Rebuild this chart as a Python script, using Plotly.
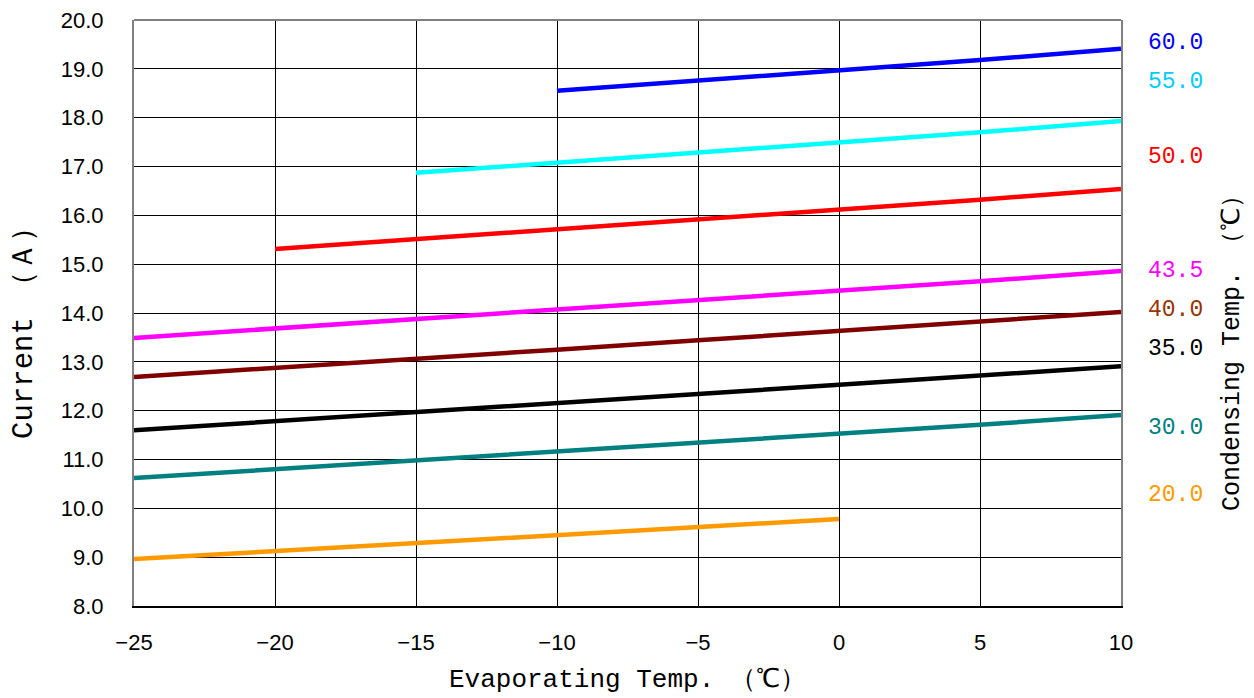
import plotly.graph_objects as go

evap = [-25, -20, -15, -10, -5, 0, 5, 10]

cond_labels = ["60.0", "55.0", "50.0", "43.5", "40.0", "35.0", "30.0", "20.0"]
current_60 = [None, None, None, 18.55, 18.76, 18.96, 19.18, 19.41]
current_55 = [None, None, 16.87, 17.08, 17.28, 17.48, 17.70, 17.93]
current_50 = [None, 15.31, 15.51, 15.71, 15.91, 16.11, 16.32, 16.54]
current_435 = [13.49, 13.68, 13.87, 14.06, 14.25, 14.45, 14.65, 14.86]
current_40 = [12.69, 12.87, 13.06, 13.25, 13.44, 13.63, 13.82, 14.02]
current_35 = [11.60, 11.78, 11.96, 12.15, 12.34, 12.53, 12.72, 12.91]
current_30 = [10.62, 10.80, 10.98, 11.16, 11.34, 11.52, 11.71, 11.91]
current_20 = [8.96, 9.12, 9.29, 9.45, 9.62, 9.78, None, None]

series = [current_60, current_55, current_50, current_435, current_40, current_35, current_30, current_20]
line_colors = ["#0000FF", "#00FFFF", "#FF0000", "#FF00FF", "#800000", "#000000", "#008080", "#FF9900"]
label_colors = ["#0000FF", "#00CCFF", "#FF0000", "#FF00FF", "#993300", "#000000", "#008080", "#FF9900"]
label_y = [19.53, 18.74, 17.2, 14.85, 14.06, 13.27, 11.64, 10.27]

MONO = "Liberation Mono, DejaVu Sans Mono, monospace"

fig = go.Figure()
for name, ys, col in zip(cond_labels, series, line_colors):
    fig.add_trace(go.Scatter(x=evap, y=ys, mode="lines", name=name,
                             line=dict(color=col, width=4.5), connectgaps=False,
                             showlegend=False, hoverinfo="skip"))

for name, yv, col in zip(cond_labels, label_y, label_colors):
    fig.add_annotation(x=1.0253, xref="paper", y=yv, yref="y", text=name,
                       showarrow=False, xanchor="left", yanchor="middle",
                       font=dict(family=MONO, size=23, color=col))

fig.add_annotation(x=1.1135, xref="paper", y=0.442, yref="paper",
                   text="Condensing Temp. （℃）", textangle=-90, showarrow=False,
                   xanchor="center", yanchor="middle",
                   font=dict(family=MONO, size=25, color="#000000"))

fig.add_annotation(x=-0.1104, xref="paper", y=0.478, yref="paper",
                   text="Current （Ａ）", textangle=-90, showarrow=False,
                   xanchor="center", yanchor="middle",
                   font=dict(family=MONO, size=29, color="#000000"))

fig.add_annotation(x=0.5, xref="paper", y=-0.126, yref="paper",
                   text="Evaporating Temp. （℃）", showarrow=False,
                   xanchor="center", yanchor="middle",
                   font=dict(family=MONO, size=26, color="#000000"))

# top border (gray)
fig.add_shape(type="line", xref="paper", yref="paper", x0=0, x1=1, y0=1, y1=1,
              line=dict(color="#808080", width=2))

fig.update_layout(
    width=1254, height=698,
    margin=dict(l=134, r=133, t=20, b=92),
    paper_bgcolor="white", plot_bgcolor="white",
    font=dict(family="Liberation Sans, Arial", size=22, color="#000000"),
)
fig.update_xaxes(range=[-25, 10], dtick=5, tick0=-25, showgrid=True, gridcolor="#000000", gridwidth=1,
                 zeroline=False, showline=True, linecolor="#000000", linewidth=2, mirror=False,
                 ticks="", ticklen=0, ticklabelstandoff=16, automargin=False,
                 tickfont=dict(size=22))
fig.update_yaxes(range=[8, 20], dtick=1, tick0=8, tickformat=".1f", showgrid=True, gridcolor="#000000",
                 gridwidth=1, zeroline=False, showline=True, linecolor="#808080", linewidth=2, mirror=True,
                 ticks="", ticklen=0, ticklabelstandoff=24, automargin=False,
                 ticklabeloverflow="allow", tickfont=dict(size=22))

fig.write_html("out.html", config={"displayModeBar": False},
               post_script="document.body.style.margin='0';document.body.style.overflow='hidden';")
